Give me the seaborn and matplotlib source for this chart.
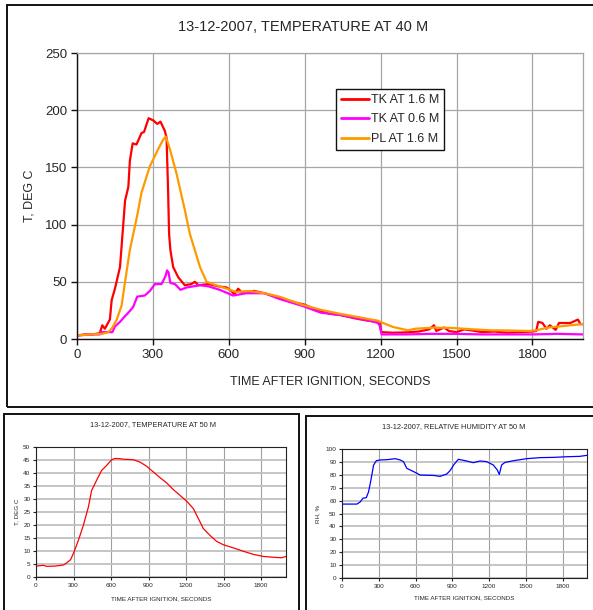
import numpy as np
import pandas as pd
import matplotlib
matplotlib.use("Agg")
import matplotlib.pyplot as plt
from matplotlib.patches import Rectangle
import seaborn as sns

# ---------------- data ----------------
# Top chart: temperature at 40 m
tk16_t = [0, 30, 60, 90, 100, 110, 130, 137, 150, 170, 180, 190, 203, 209, 220, 235, 255, 265,
          283, 302, 317, 330, 347, 354, 360, 364, 369, 380, 400, 426, 452, 466, 480, 520, 560,
          592, 610, 622, 637, 650, 700, 741, 800, 861, 900, 950, 1000, 1040, 1100, 1150, 1190,
          1197, 1203, 1250, 1300, 1350, 1392, 1411, 1420, 1451, 1470, 1500, 1530, 1560, 1600,
          1650, 1700, 1750, 1800, 1815, 1823, 1840, 1855, 1869, 1892, 1905, 1915, 1950, 1980,
          1990, 2000]
tk16_v = [3, 4, 4, 5, 12, 9, 17, 34, 44, 63, 92, 121, 133, 156, 171, 170, 180, 181,
          193, 191, 188, 190, 182, 176, 130, 92, 78, 63, 54, 47, 48, 50, 47, 48, 46,
          45, 42, 39, 44, 41, 42, 40, 36, 32, 30, 25, 22, 21, 18, 16, 15,
          14, 6, 5.5, 5.8, 6.5, 8.4, 12, 7, 10, 7, 6, 8.4, 7.5, 6,
          6.5, 5.5, 6, 6.5, 7, 15, 14, 9, 12, 8, 14, 14, 14, 17,
          13, 13]

tk06_t = [0, 50, 90, 95, 140, 150, 170, 190, 203, 222, 238, 268, 288, 308, 334, 350, 356, 362,
          369, 387, 409, 433, 459, 486, 520, 564, 617, 670, 741, 800, 890, 964, 1040, 1115,
          1174, 1189, 1196, 1204, 1300, 1400, 1500, 1600, 1700, 1800, 1900, 2000]
tk06_v = [3, 4, 4, 6, 6, 11, 15, 20, 23, 28, 37, 38, 42, 48, 48, 55, 60, 58,
          49, 48, 43, 45, 46, 47, 46, 43, 38, 40, 40, 35, 29, 23, 21, 18,
          15, 14, 12, 4, 4, 4.5, 4.5, 4, 4, 4, 4.5, 4]

pl16_t = [0, 50, 100, 124, 140, 157, 176, 190, 209, 238, 255, 288, 321, 340, 351, 367, 393, 426,
          446, 486, 512, 550, 591, 630, 683, 741, 800, 890, 964, 1040, 1115, 1189, 1204, 1249,
          1308, 1338, 1413, 1488, 1560, 1637, 1700, 1786, 1816, 1861, 1935, 1995, 2000]
pl16_v = [3, 4, 4.5, 6, 10, 17, 29, 50, 78, 108, 128, 151, 166, 174, 177, 166, 145, 113,
          92, 63, 50, 47, 44, 41, 42, 40, 37, 30, 25.5, 22, 19, 16, 14.5, 10.5,
          7.6, 9, 10, 9.6, 8.5, 7.6, 7.5, 7, 7.6, 10, 11.6, 13, 13]

series_labels = ["TK AT 1.6 M", "TK AT 0.6 M", "PL AT 1.6 M"]
series_colors = ["#FF0000", "#FF00FF", "#FF9900"]

# Bottom-left: temperature at 50 m
t50_t = [0, 59, 85, 152, 219, 245, 277, 304, 339, 379, 419, 445, 485, 525, 565, 605, 632, 672,
         699, 779, 832, 885, 939, 992, 1045, 1099, 1152, 1205, 1259, 1312, 1339, 1392, 1445,
         1499, 1579, 1659, 1739, 1819, 1899, 1965, 2000]
t50_v = [4.2, 4.5, 4.1, 4.2, 4.6, 5.4, 6.7, 9.6, 14.1, 19.9, 26.9, 33.3, 37.2, 41, 42.9, 45.1,
         45.6, 45.5, 45.3, 45.1, 44.2, 42.6, 40.4, 38.2, 36.2, 33.6, 31.4, 29.2, 26.3, 21.2,
         18.6, 16, 13.7, 12.4, 11.2, 9.9, 8.7, 7.9, 7.6, 7.4, 7.9]

# Bottom-right: relative humidity at 50 m
rh_t = [0, 122, 149, 171, 198, 217, 236, 258, 280, 312, 366, 434, 475, 502, 529, 557, 597, 638,
        747, 801, 855, 882, 915, 950, 1018, 1072, 1127, 1181, 1235, 1268, 1284, 1303, 1330,
        1398, 1507, 1615, 1724, 1833, 1941, 2000]
rh_v = [57.3, 57.3, 59, 61.9, 62.2, 66.8, 75.9, 87.6, 90.9, 91.5, 91.7, 92.5, 91.5, 90.2, 85,
        83.7, 81.9, 79.8, 79.5, 78.8, 80.6, 83.2, 88.1, 92, 90.7, 89.4, 90.7, 90.2, 87.6, 83.7,
        80.3, 87.6, 89.6, 90.9, 92.5, 93.3, 93.5, 94, 94.3, 95.1]

x_ticks = [0, 300, 600, 900, 1200, 1500, 1800]

# ---------------- style ----------------
sns.set_style("white")
plt.rcParams["font.family"] = ["Liberation Sans", "DejaVu Sans"]
plt.rcParams["axes.unicode_minus"] = False

W, H = 593, 610
fig = plt.figure(figsize=(W / 100, H / 100), dpi=100)


def px_axes(l, t, r, b):
    return fig.add_axes([l / W, 1 - b / H, (r - l) / W, (b - t) / H])


def frame(l, t, r, b):
    fig.patches.append(Rectangle((l / W, 1 - b / H), (r - l) / W, (b - t) / H,
                                 transform=fig.transFigure, fill=False,
                                 edgecolor="#111111", linewidth=1.4, zorder=0))


frame(7, 5, 620, 407)
frame(4, 414, 299, 640)
frame(306, 416, 640, 640)

# ---------------- top chart ----------------
ax = px_axes(77, 53, 583, 339)
df_top = pd.concat([
    pd.DataFrame({"t": tk16_t, "T": tk16_v, "series": series_labels[0]}),
    pd.DataFrame({"t": tk06_t, "T": tk06_v, "series": series_labels[1]}),
    pd.DataFrame({"t": pl16_t, "T": pl16_v, "series": series_labels[2]}),
], ignore_index=True)
sns.lineplot(data=df_top, x="t", y="T", hue="series", hue_order=series_labels,
             palette=series_colors, estimator=None, sort=False, linewidth=1.6, ax=ax)
ax.set_xlim(0, 2000)
ax.set_ylim(0, 250)
ax.set_xticks(x_ticks)
ax.set_yticks(range(0, 251, 50))
ax.grid(True, color="#a6a6a6", linewidth=0.9)
ax.set_axisbelow(True)
for s in ["top", "right"]:
    ax.spines[s].set_color("#a6a6a6")
    ax.spines[s].set_linewidth(0.9)
for s in ["left", "bottom"]:
    ax.spines[s].set_color("#111111")
    ax.spines[s].set_linewidth(1.0)
ax.tick_params(axis="both", direction="out", length=4, width=1, color="#111111",
               labelsize=9.5, pad=3, bottom=True, left=True)
ax.set_xlabel("TIME AFTER IGNITION, SECONDS", fontsize=9, va="center")
ax.xaxis.set_label_coords(0.5, (339 - 381) / 286)
ax.set_ylabel("T, DEG C", fontsize=9, va="center")
ax.yaxis.set_label_coords((29 - 77) / 506, 0.5)
ax.set_title("13-12-2007, TEMPERATURE AT 40 M", fontsize=10.5, x=(303 - 77) / 506,
             y=(339 - 27) / 286, va="center", pad=0)
leg = ax.legend(loc="upper left", bbox_to_anchor=((336 - 77) / 506, (339 - 89) / 286),
                fontsize=9, frameon=True, fancybox=False, framealpha=1,
                edgecolor="#111111", borderpad=0.4, labelspacing=0.6,
                handlelength=2.2, handletextpad=0.2, borderaxespad=0)
leg.get_frame().set_linewidth(1.0)
for line in leg.get_lines():
    line.set_linewidth(2.0)

# ---------------- bottom-left ----------------
def style_small(a, ymax, ystep):
    a.set_xlim(0, 2000)
    a.set_ylim(0, ymax)
    a.set_xticks(x_ticks)
    a.set_yticks(np.arange(0, ymax + 0.1, ystep))
    a.yaxis.grid(True, color="#c0c0c0", linewidth=1.3)
    a.xaxis.grid(True, color="#a0a0a0", linewidth=0.8)
    a.set_axisbelow(True)
    for s in a.spines.values():
        s.set_color("#222222")
        s.set_linewidth(0.8)
    a.tick_params(axis="both", direction="out", length=2, width=0.8, color="#222222",
                  labelsize=4.6, pad=2, bottom=True, left=True)


ax2 = px_axes(36, 447, 286, 577)
sns.lineplot(x=t50_t, y=t50_v, color="#FF0000", linewidth=0.9, estimator=None, sort=False, ax=ax2)
style_small(ax2, 50, 5)
ax2.set_xlabel("TIME AFTER IGNITION, SECONDS", fontsize=4.5, va="center")
ax2.xaxis.set_label_coords(0.5, (577 - 599) / 130)
ax2.set_ylabel("T, DEG C", fontsize=4.5, va="center")
ax2.yaxis.set_label_coords((17 - 36) / 250, 0.5)
ax2.set_title("13-12-2007, TEMPERATURE AT 50 M", fontsize=5.3, x=(152.5 - 36) / 250,
              y=(577 - 425) / 130, va="center", pad=0)

# ---------------- bottom-right ----------------
ax3 = px_axes(342, 449, 587, 578)
sns.lineplot(x=rh_t, y=rh_v, color="#0000FF", linewidth=0.9, estimator=None, sort=False, ax=ax3)
style_small(ax3, 100, 10)
ax3.set_xlabel("TIME AFTER IGNITION, SECONDS", fontsize=4.5, va="center")
ax3.xaxis.set_label_coords(0.5, (578 - 598) / 129)
ax3.set_ylabel("RH, %", fontsize=4.5, va="center")
ax3.yaxis.set_label_coords((318 - 342) / 245, 0.5)
ax3.set_title("13-12-2007, RELATIVE HUMIDITY AT 50 M", fontsize=5.3, x=(454 - 342) / 245,
              y=(578 - 427) / 129, va="center", pad=0)

fig.savefig("out.png", dpi=100)
